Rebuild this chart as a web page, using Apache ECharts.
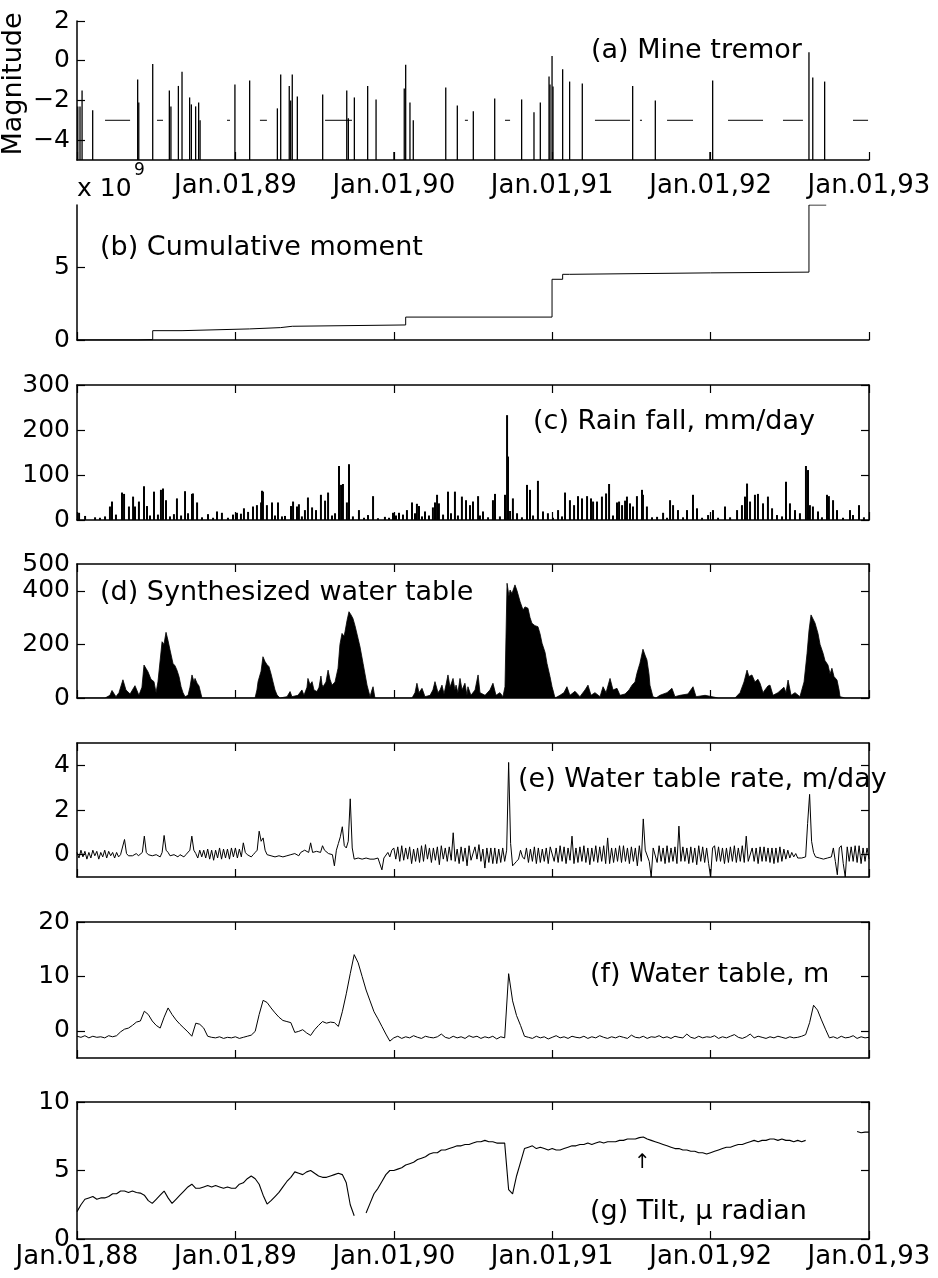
<!DOCTYPE html>
<html><head><meta charset="utf-8">
<script src="https://cdn.jsdelivr.net/npm/echarts@6/dist/echarts.min.js"></script>
<style>html,body{margin:0;padding:0;background:#fff}#c{width:938px;height:1278px}</style>
</head><body><div id="c"></div>
<script>
// ---------------- DATA ----------------
const X_MIN = 1988, X_MAX = 1993, X_INTERVAL = 1;

// (a) Mine tremor: event time (decimal year) and magnitude
const tremorTimes = [1988.005,1988.019,1988.032,1988.099,1988.383,1988.390,1988.478,1988.583,1988.593,1988.640,1988.663,1988.711,1988.722,1988.749,1988.768,1988.777,
  1988.997,1989.090,1989.265,1989.286,1989.340,1989.349,1989.359,1989.391,1989.551,1989.703,1989.713,1989.751,1989.835,1989.888,
  1990.001,1990.066,1990.075,1990.102,1990.123,1990.328,1990.401,1990.502,1990.637,1990.807,1990.885,1990.925,1990.980,1990.986,1990.999,
  1991.005,1991.066,1991.110,1991.190,1991.508,1991.651,1991.996,1992.013,1992.621,1992.645,1992.720];
const tremorMags = [-2.3,-2.3,-1.5,-2.5,-0.95,-2.1,-0.17,-1.5,-2.3,-1.27,-0.55,-1.85,-2.2,-2.3,-2.1,-3.0,
  -1.2,-1.0,-2.4,-0.7,-1.27,-2.0,-0.7,-1.8,-1.7,-1.5,-2.9,-1.85,-1.27,-1.95,
  -4.6,-1.4,-0.2,-2.1,-3.0,-1.35,-2.25,-2.55,-1.9,-1.95,-2.6,-2.1,-0.8,-1.2,0.24,
  -1.3,-0.43,-1.05,-1.15,-1.27,-2.0,-4.6,-1.0,0.42,-0.85,-1.05];
const THRESHOLD_LEVEL = -3;
const thresholdStarts = [1988.177,1988.505,1988.947,1989.155,1989.566,1990.449,1990.702,1991.270,1991.554,1991.725,1992.110,1992.457,1992.899];
const thresholdEnds   = [1988.335,1988.543,1988.966,1989.199,1989.736,1990.468,1990.734,1991.491,1991.567,1991.889,1992.331,1992.583,1992.994];

// (b) Cumulative moment (x 10^9), step changes
const momentTimes  = [1988.000,1988.383,1988.478,1988.663,1989.090,1989.286,1989.359,1990.075,1990.999,1991.066,1991.110,1992.000,1992.621,1992.730];
const momentValues = [0,0.03,0.64,0.76,0.85,0.94,1.03,1.57,4.16,4.50,4.60,4.65,9.25,9.25];

// (c) Rain fall, mm/day
const rainTimes = [
  1988.013,1988.051,1988.114,1988.145,1988.177,1988.208,1988.221,1988.246,1988.284,1988.297,1988.328,1988.354,1988.366,1988.391,1988.423,1988.442,1988.461,1988.486,1988.511,1988.530,1988.543,1988.562,1988.587,1988.612,1988.631,1988.657,1988.682,1988.701,1988.726,1988.732,1988.758,1988.789,1988.827,1988.859,1988.884,1988.915,1988.953,1988.985,
  1989.010,1989.035,1989.054,1989.080,1989.111,1989.136,1989.162,1989.168,1989.174,1989.199,1989.231,1989.250,1989.269,1989.294,1989.313,1989.351,1989.364,1989.389,1989.401,1989.420,1989.439,1989.458,1989.484,1989.509,1989.540,1989.566,1989.585,1989.610,1989.629,1989.654,1989.667,1989.679,1989.704,1989.717,1989.742,1989.780,1989.812,1989.837,1989.869,1989.900,1989.944,1989.970,1989.995,
  1990.014,1990.033,1990.058,1990.083,1990.115,1990.134,1990.146,1990.159,1990.178,1990.197,1990.222,1990.247,1990.260,1990.273,1990.285,1990.311,1990.342,1990.361,1990.386,1990.405,1990.430,1990.456,1990.481,1990.500,1990.532,1990.544,1990.563,1990.595,1990.626,1990.639,1990.670,1990.702,1990.715,1990.721,1990.734,1990.752,1990.778,1990.809,1990.841,1990.860,1990.879,1990.910,1990.942,1990.973,
  1991.005,1991.037,1991.062,1991.081,1991.112,1991.138,1991.163,1991.188,1991.220,1991.245,1991.258,1991.283,1991.314,1991.340,1991.359,1991.384,1991.409,1991.422,1991.441,1991.460,1991.472,1991.491,1991.510,1991.535,1991.567,1991.573,1991.598,1991.630,1991.662,1991.700,1991.725,1991.744,1991.763,1991.794,1991.826,1991.851,1991.889,1991.914,1991.946,1991.984,
  1992.015,1992.047,1992.091,1992.123,1992.167,1992.198,1992.217,1992.230,1992.249,1992.280,1992.299,1992.331,1992.362,1992.388,1992.419,1992.451,1992.476,1992.501,1992.533,1992.564,1992.602,1992.615,1992.627,1992.646,1992.678,1992.703,1992.735,1992.747,1992.773,1992.798,1992.836,1992.880,1992.899,1992.937,1992.968];
const rainValues = [
  16,9,6,5,8,30,41,12,61,58,30,52,30,41,75,31,10,63,12,67,70,44,8,13,48,10,64,15,58,59,39,6,13,5,19,16,5,12,
  16,14,26,18,30,33,39,65,63,33,39,10,39,8,9,31,41,30,35,8,22,50,28,22,56,43,61,10,15,120,78,80,39,124,8,22,5,11,53,4,7,5,16,
  10,16,12,22,39,15,36,31,8,19,10,28,39,56,37,12,63,15,63,10,52,44,33,41,53,10,19,6,44,58,8,56,233,141,20,48,15,6,78,67,10,87,19,15,
  5,22,8,61,44,33,53,48,53,48,41,41,52,59,80,10,39,41,33,43,52,37,30,53,67,56,30,6,7,16,5,44,33,22,6,22,56,26,5,11,
  22,5,30,6,22,33,52,81,41,56,58,37,52,26,11,8,85,37,22,15,120,111,33,30,19,6,56,53,44,22,5,22,11,33,6];

// (d) Synthesized water table (envelope)
const synthTimes = [
  1988.000,1988.177,1988.208,1988.221,1988.246,1988.265,1988.290,1988.309,1988.335,1988.366,1988.391,1988.410,1988.423,1988.436,1988.448,1988.467,1988.486,1988.499,1988.511,1988.537,1988.549,1988.562,1988.574,1988.587,1988.606,1988.619,1988.631,1988.644,1988.657,1988.669,1988.682,1988.701,1988.713,1988.726,1988.739,1988.745,1988.758,1988.770,1988.789,
  1989.124,1989.136,1989.143,1989.162,1989.174,1989.187,1989.199,1989.212,1989.225,1989.237,1989.250,1989.263,1989.282,1989.326,1989.345,1989.357,1989.395,1989.420,1989.433,1989.452,1989.458,1989.471,1989.484,1989.496,1989.515,1989.528,1989.540,1989.547,1989.553,1989.572,1989.585,1989.597,1989.610,1989.629,1989.648,1989.660,1989.673,1989.686,1989.692,1989.705,1989.717,1989.730,1989.742,1989.755,1989.774,1989.787,1989.806,1989.818,1989.831,1989.850,1989.862,1989.869,1989.881,
  1990.115,1990.134,1990.146,1990.159,1990.178,1990.197,1990.229,1990.247,1990.260,1990.279,1990.292,1990.304,1990.317,1990.330,1990.342,1990.355,1990.374,1990.386,1990.393,1990.405,1990.418,1990.431,1990.449,1990.462,1990.468,1990.487,1990.513,1990.532,1990.544,1990.576,1990.607,1990.626,1990.645,1990.670,1990.689,1990.702,1990.715,1990.727,1990.734,1990.746,1990.765,1990.778,1990.784,1990.797,1990.816,1990.828,1990.847,1990.860,1990.872,1990.891,1990.910,1990.923,1990.936,1990.955,1990.967,1990.986,1990.999,
  1991.018,1991.049,1991.074,1991.093,1991.112,1991.144,1991.175,1991.207,1991.226,1991.245,1991.270,1991.302,1991.321,1991.340,1991.365,1991.384,1991.409,1991.428,1991.460,1991.485,1991.504,1991.523,1991.535,1991.554,1991.573,1991.586,1991.598,1991.611,1991.617,1991.636,1991.655,1991.680,1991.725,1991.756,1991.775,1991.807,1991.857,1991.889,1991.908,1991.965,
  1992.009,1992.047,1992.154,1992.186,1992.211,1992.230,1992.242,1992.261,1992.280,1992.299,1992.312,1992.331,1992.343,1992.362,1992.375,1992.394,1992.425,1992.444,1992.463,1992.476,1992.489,1992.508,1992.533,1992.564,1992.590,1992.609,1992.621,1992.634,1992.646,1992.659,1992.678,1992.691,1992.710,1992.722,1992.741,1992.754,1992.766,1992.779,1992.798,1992.811,1992.817,1992.848,1993.000];
const synthValues = [
  0,0,10,28,5,20,68,30,15,46,10,40,123,110,98,70,61,20,60,210,200,245,216,180,129,120,104,80,42,20,5,10,40,86,60,73,55,45,0,
  0,30,61,100,154,136,125,117,90,61,30,11,0,5,24,5,10,30,10,40,73,50,61,30,24,40,82,50,42,60,104,70,48,60,111,200,241,230,247,290,322,310,297,270,223,190,129,90,48,5,30,42,0,
  0,20,55,20,36,5,10,30,61,20,30,48,15,50,86,40,73,30,48,20,73,30,55,10,42,10,30,86,20,10,30,55,10,20,5,42,428,380,403,390,422,400,397,360,328,340,335,300,279,270,266,240,204,170,129,80,42,
  0,10,20,42,10,25,5,30,48,10,20,5,42,20,73,30,36,10,15,30,48,60,92,130,182,160,142,90,48,5,0,10,20,36,5,10,15,42,5,10,
  5,0,0,20,60,104,80,86,60,70,55,20,30,45,48,10,20,30,40,20,67,10,20,5,60,167,250,310,303,280,241,200,167,140,123,90,111,80,67,30,5,0,0];

// (e) Water table rate, m/day: one value every RATE_STEP years from SAMPLE_START
const SAMPLE_START = 1988, RATE_STEP = 0.0125, SAMPLE_STEP = 0.025;
const rateValues = [
  0.1,-0.15,0.2,-0.1,0.15,-0.2,0.1,-0.15,0.2,-0.05,0.15,-0.2,0.1,-0.1,0.2,-0.15,0.15,-0.05,0.1,-0.15,
  0.1,-0.1,0.0,0.05,0.68,0.05,-0.05,0.0,-0.05,0.0,0.05,-0.05,0.0,0.1,0.83,0.1,0.0,-0.05,-0.05,0.0,
  0.0,-0.05,-0.1,0.1,0.86,0.2,0.1,-0.05,-0.1,0.0,-0.05,-0.1,0.0,-0.05,-0.1,0.0,0.05,0.2,0.83,0.2,
  0.05,-0.15,0.2,-0.1,0.2,-0.15,0.25,-0.2,0.2,-0.25,0.2,-0.15,0.3,-0.2,0.25,-0.15,0.25,-0.2,0.3,-0.1,
  0.3,-0.15,0.25,-0.1,0.53,0.1,0.0,-0.05,-0.1,0.0,0.1,0.2,1.05,0.6,0.75,0.2,0.0,-0.05,-0.05,-0.1,
  -0.1,-0.1,-0.05,-0.1,-0.1,-0.05,-0.05,-0.1,0.0,0.05,0.05,0.0,-0.05,0.1,0.1,0.2,0.2,0.1,0.53,0.1,
  0.1,0.15,0.2,0.1,0.4,0.2,0.15,0.05,0.1,0.0,-0.5,0.2,0.5,0.8,1.25,0.4,0.3,0.6,2.5,0.3,
  -0.2,-0.15,-0.15,-0.2,-0.2,-0.15,-0.15,-0.2,-0.2,-0.15,-0.2,-0.15,-0.15,-0.2,-0.68,-0.15,-0.15,0.1,-0.1,0.2,
  0.3,-0.2,0.35,-0.3,0.4,-0.25,0.3,-0.2,0.35,-0.4,0.25,-0.3,0.3,-0.35,0.4,-0.3,0.45,-0.2,0.3,-0.35,
  0.3,-0.25,0.35,-0.45,0.4,-0.2,0.3,-0.3,0.35,-0.25,0.98,-0.3,0.25,-0.4,0.35,-0.3,0.3,-0.5,0.4,-0.25,
  -0.3,0.35,-0.2,0.45,-0.3,0.25,-0.6,0.3,-0.35,0.3,-0.4,0.3,-0.4,0.25,-0.35,0.3,-0.3,0.2,4.13,0.5,
  -0.5,-0.55,-0.3,-0.2,0.2,-0.1,-0.2,0.3,-0.35,0.25,-0.3,0.35,-0.4,0.3,-0.35,0.25,-0.3,0.3,-0.4,0.35,
  0.35,-0.3,0.3,-0.35,0.4,-0.3,0.35,-0.4,0.3,-0.25,0.83,-0.4,0.3,-0.35,0.35,-0.3,0.4,-0.35,0.3,-0.45,
  0.3,-0.3,0.4,-0.35,0.35,-0.3,0.4,-0.4,0.75,-0.4,0.3,-0.35,0.3,-0.3,0.4,-0.35,0.4,-0.3,0.3,-0.4,
  0.35,-0.3,0.3,-0.5,0.4,-0.3,1.6,0.2,0.2,-0.3,-1.0,0.3,0.35,-0.35,0.4,-0.3,0.3,-0.4,0.4,-0.35,
  0.3,-0.3,0.35,-0.4,1.28,-0.3,0.35,-0.3,0.3,-0.4,0.35,-0.35,0.3,-0.45,0.4,-0.3,0.35,-0.35,0.3,-0.4,
  -1.0,0.3,0.4,-0.3,0.35,-0.3,0.3,-0.4,0.3,-0.35,0.35,-0.3,0.4,-0.35,0.3,-0.3,0.4,-0.35,0.83,-0.3,
  -0.35,0.3,-0.3,0.3,-0.4,0.35,-0.3,0.35,-0.3,0.3,-0.35,0.3,-0.4,0.3,-0.35,0.35,-0.3,0.25,-0.2,0.2,
  -0.15,0.1,-0.1,0.05,-0.15,-0.1,-0.15,-0.1,-0.1,1.4,2.7,0.6,0.1,-0.1,-0.15,-0.15,-0.15,-0.2,-0.2,-0.15,
  -0.15,-0.1,0.3,-0.3,-0.9,0.3,0.4,-0.4,-1.0,0.35,-0.3,0.35,-0.3,0.4,-0.35,0.4,-0.4,0.3,-0.3,0.3,
  -0.2];
// (f)-(g): one value every SAMPLE_STEP years from SAMPLE_START
const waterValues = [ // (f) Water table, m
  -1.0,-1.2,-0.9,-1.3,-1.0,-1.2,-1.1,-1.3,-0.9,-1.1,
  -0.9,-0.2,0.3,0.5,1.0,1.6,1.8,3.6,3.0,1.8,
  1.0,0.5,2.5,4.2,3.0,2.0,1.2,0.5,-0.2,-1.0,
  1.4,1.2,0.5,-1.0,-1.2,-1.3,-1.1,-1.4,-1.2,-1.3,
  -1.1,-1.4,-1.2,-1.0,-0.8,-0.1,3.0,5.6,5.2,4.2,
  3.3,2.5,1.9,1.7,1.5,-0.3,-0.1,0.2,-0.4,-0.85,
  0.2,1.0,1.7,1.4,1.6,1.5,0.8,3.5,6.8,10.5,
  14.0,12.5,10.0,7.5,5.5,3.5,2.2,0.8,-0.6,-1.9,
  -1.3,-1.0,-1.4,-1.1,-1.3,-0.9,-1.2,-1.4,-1.0,-1.2,
  -1.3,-1.1,-0.6,-1.2,-1.4,-1.0,-1.3,-1.1,-1.4,-0.9,
  -1.2,-1.0,-1.4,-1.1,-1.3,-1.0,-1.5,-1.1,-1.3,10.5,
  5.5,2.8,1.0,-1.0,-1.2,-1.4,-1.0,-1.3,-1.1,-1.5,
  -1.2,-0.9,-1.3,-1.1,-1.4,-1.0,-1.2,-1.3,-1.0,-1.4,
  -1.1,-1.3,-0.9,-1.2,-1.4,-1.1,-1.3,-1.0,-1.2,-1.4,
  -0.8,-1.2,-1.3,-1.0,-1.4,-1.1,-1.2,-0.9,-1.3,-1.1,
  -1.4,-1.0,-1.2,-1.3,-0.6,-1.2,-1.4,-1.0,-1.3,-1.1,
  -1.2,-0.9,-1.4,-1.1,-1.3,-1.0,-0.7,-1.2,-1.4,-1.1,
  -0.6,-1.3,-1.0,-1.2,-1.4,-1.1,-1.3,-1.0,-1.2,-1.4,
  -1.1,-1.3,-1.2,-1.0,-0.7,1.5,4.7,3.8,2.0,0.3,
  -1.3,-1.1,-1.4,-1.0,-1.3,-1.2,-0.9,-1.4,-1.1,-1.3,
  -1.2];
const tiltValues = [ // (g) Tilt, micro radian (null = no record)
  2.0,2.5,2.9,3.0,3.1,2.9,3.0,3.0,3.1,3.3,
  3.3,3.5,3.5,3.4,3.5,3.4,3.35,3.2,2.8,2.6,
  2.9,3.2,3.5,3.0,2.6,2.9,3.2,3.5,3.8,4.0,
  3.7,3.7,3.8,3.9,3.8,3.9,3.8,3.7,3.8,3.7,
  3.7,4.0,4.1,4.4,4.6,4.4,4.0,3.2,2.55,2.8,
  3.1,3.4,3.8,4.2,4.5,4.9,4.8,4.7,4.9,5.0,
  4.8,4.6,4.5,4.5,4.6,4.7,4.8,4.7,4.1,2.5,
  1.7,null,null,1.9,2.6,3.3,3.7,4.2,4.7,5.0,
  5.0,5.1,5.2,5.4,5.5,5.6,5.8,5.9,6.0,6.2,
  6.3,6.3,6.5,6.5,6.6,6.7,6.8,6.8,6.9,6.9,
  7.0,7.1,7.1,7.2,7.1,7.1,7.0,7.0,7.0,3.6,
  3.3,4.6,5.6,6.6,6.7,6.8,6.6,6.7,6.6,6.5,
  6.6,6.5,6.5,6.6,6.7,6.8,6.8,6.9,6.9,7.0,
  6.9,7.0,7.1,7.0,7.1,7.1,7.1,7.2,7.2,7.3,
  7.3,7.3,7.4,7.45,7.3,7.2,7.1,7.0,6.9,6.8,
  6.7,6.6,6.6,6.5,6.5,6.4,6.4,6.3,6.3,6.2,
  6.3,6.4,6.5,6.6,6.7,6.7,6.8,6.9,6.9,7.0,
  7.1,7.2,7.1,7.2,7.2,7.3,7.3,7.2,7.3,7.2,
  7.2,7.1,7.2,7.1,7.2,null,null,null,null,null,
  null,null,null,null,null,null,null,7.85,7.75,7.8,
  7.8];

// axis ranges / tick values
const A_RANGE = [-5, 2],   A_TICKS = [-4, -2, 0, 2];
const B_RANGE = [0, 9.25], B_TICKS = [0, 5];
const C_RANGE = [0, 300],  C_TICKS = [0, 100, 200, 300];
const D_RANGE = [0, 500],  D_TICKS = [0, 200, 400], D_LABELS = [0, 200, 400, 500];
const E_RANGE = [-1, 5],   E_TICKS = [0, 2, 4];
const F_RANGE = [-5, 20],  F_TICKS = [0, 10, 20];
const G_RANGE = [0, 10],   G_TICKS = [0, 5, 10];

// ---------------- LAYOUT ----------------
const FONT = 'DejaVu Sans';
const LEFT = 77, WIDTH = 792;
const PANELS = [
  {top: 21,   height: 139, range: A_RANGE, ticks: A_TICKS, box: false},
  {top: 205,  height: 135, range: B_RANGE, ticks: B_TICKS, box: false},
  {top: 385,  height: 135, range: C_RANGE, ticks: C_TICKS, box: true},
  {top: 564,  height: 134, range: D_RANGE, ticks: D_TICKS, labels: D_LABELS, box: true},
  {top: 743,  height: 134, range: E_RANGE, ticks: E_TICKS, box: true},
  {top: 922,  height: 136, range: F_RANGE, ticks: F_TICKS, box: true},
  {top: 1102, height: 137, range: G_RANGE, ticks: G_TICKS, box: true}
];
const AX = {color: '#000', width: 1.5};
const TICK = {inside: true, length: 8, lineStyle: {color: '#000', width: 1.2}};
const fmtNum = v => (v < 0 ? '\u2212' + Math.abs(v) : String(v));
const fmtDate = v => 'Jan.01,' + String(Math.round(v)).slice(2);

const grids = [], xAxes = [], yAxes = [];
PANELS.forEach((p, g) => {
  grids.push({left: LEFT, width: WIDTH, top: p.top, height: p.height, outerBoundsMode: 'none', containLabel: false});
});
PANELS.forEach((p, g) => {
  const showLab = (g === 0 || g === 6);
  xAxes.push({gridIndex: g, type: 'value', min: X_MIN, max: X_MAX, interval: X_INTERVAL, position: 'bottom',
    axisLine: {show: true, onZero: false, lineStyle: AX}, axisTick: Object.assign({show: true}, TICK),
    splitLine: {show: false},
    axisLabel: {show: showLab, margin: g === 0 ? 13 : 5, color: '#000', fontFamily: FONT, fontSize: 26,
      showMinLabel: true, showMaxLabel: true,
      formatter: v => (g === 0 && v === X_MIN) ? '' : fmtDate(v)}});
  yAxes.push({gridIndex: g, type: 'value', min: p.range[0], max: p.range[1], position: 'left',
    axisLine: {show: true, onZero: false, lineStyle: AX},
    axisTick: Object.assign({show: true, customValues: p.ticks}, TICK),
    splitLine: {show: false},
    axisLabel: {show: true, customValues: p.labels || p.ticks, margin: 7, color: '#000', fontFamily: FONT, fontSize: 25,
      showMinLabel: true, showMaxLabel: true, formatter: fmtNum}});
});
PANELS.forEach((p, g) => {
  if (!p.box) return;
  xAxes.push({gridIndex: g, type: 'value', min: X_MIN, max: X_MAX, interval: X_INTERVAL, position: 'top',
    axisLine: {show: true, onZero: false, lineStyle: AX}, axisTick: Object.assign({show: true}, TICK),
    splitLine: {show: false}, axisLabel: {show: false}});
  yAxes.push({gridIndex: g, type: 'value', min: p.range[0], max: p.range[1], position: 'right',
    axisLine: {show: true, onZero: false, lineStyle: AX},
    axisTick: Object.assign({show: true, customValues: p.ticks}, TICK),
    splitLine: {show: false}, axisLabel: {show: false}});
});

const sampled = (vals, step) => vals.map((v, i) => [+(SAMPLE_START + i * step).toFixed(4), v]);
const thresholdData = [];
thresholdStarts.forEach((s, k) => {
  thresholdData.push([s, THRESHOLD_LEVEL], [thresholdEnds[k], THRESHOLD_LEVEL], [thresholdEnds[k], null]);
});
const LINE = {color: '#000', width: 1};

const series = [
  {type: 'custom', xAxisIndex: 0, yAxisIndex: 0, encode: {x: 0, y: 1},
    data: tremorTimes.map((t, k) => [t, tremorMags[k]]),
    renderItem: (params, api) => {
      const t = api.value(0), m = api.value(1);
      const a = api.coord([t, A_RANGE[0]]), b = api.coord([t, m]);
      return {type: 'line', shape: {x1: a[0], y1: a[1], x2: b[0], y2: b[1]}, style: {stroke: '#000', lineWidth: 1.3}};
    }},
  {type: 'line', xAxisIndex: 0, yAxisIndex: 0, data: thresholdData, showSymbol: false, symbol: 'none',
    connectNulls: false, lineStyle: LINE},
  {type: 'line', xAxisIndex: 1, yAxisIndex: 1, step: 'end', symbol: 'none',
    data: momentTimes.map((t, k) => [t, momentValues[k]]), lineStyle: LINE},
  {type: 'bar', xAxisIndex: 2, yAxisIndex: 2, barWidth: 2, itemStyle: {color: '#000'},
    data: rainTimes.map((t, k) => [t, rainValues[k]])},
  {type: 'line', xAxisIndex: 3, yAxisIndex: 3, symbol: 'none', lineStyle: {color: '#000', width: 0.8},
    areaStyle: {color: '#000', opacity: 1},
    data: synthTimes.map((t, k) => [t, synthValues[k]])},
  {type: 'line', xAxisIndex: 4, yAxisIndex: 4, symbol: 'none', lineStyle: LINE, data: sampled(rateValues, RATE_STEP)},
  {type: 'line', xAxisIndex: 5, yAxisIndex: 5, symbol: 'none', lineStyle: LINE, data: sampled(waterValues, SAMPLE_STEP)},
  {type: 'line', xAxisIndex: 6, yAxisIndex: 6, symbol: 'none', connectNulls: false, lineStyle: {color: '#000', width: 1.1},
    data: sampled(tiltValues, SAMPLE_STEP)}
];

function txt(text, x, y, size, extra) {
  return Object.assign({type: 'text', x: x, y: y, z: 100,
    style: {text: text, font: size + 'px "' + FONT + '"', fill: '#000',
      textAlign: 'left', textVerticalAlign: 'middle', align: 'left', verticalAlign: 'middle'}}, extra || {});
}
const graphic = [
  txt('Magnitude', 14, 84, 27, {rotation: Math.PI / 2,
    style: {text: 'Magnitude', font: '27px "' + FONT + '"', fill: '#000', textAlign: 'center', textVerticalAlign: 'middle', align: 'center', verticalAlign: 'middle'}}),
  txt('(a) Mine tremor', 591, 51, 27),
  txt('x 10', 77, 189, 25),
  txt('9', 134, 171, 17),
  txt('(b) Cumulative moment', 100, 248, 27),
  txt('(c) Rain fall, mm/day', 533, 422, 27),
  txt('(d) Synthesized water table', 100, 593, 27),
  txt('(e) Water table rate, m/day', 518, 780, 27),
  txt('(f) Water table, m', 590, 975, 27),
  txt('(g) Tilt, \u03bc radian', 590, 1212, 27),
  txt('\u2191', 634, 1163, 20)
];

const chart = echarts.init(document.getElementById('c'), null, {renderer: 'canvas'});
chart.setOption({
  animation: false,
  backgroundColor: '#fff',
  grid: grids, xAxis: xAxes, yAxis: yAxes, series: series, graphic: graphic
});
</script></body></html>
